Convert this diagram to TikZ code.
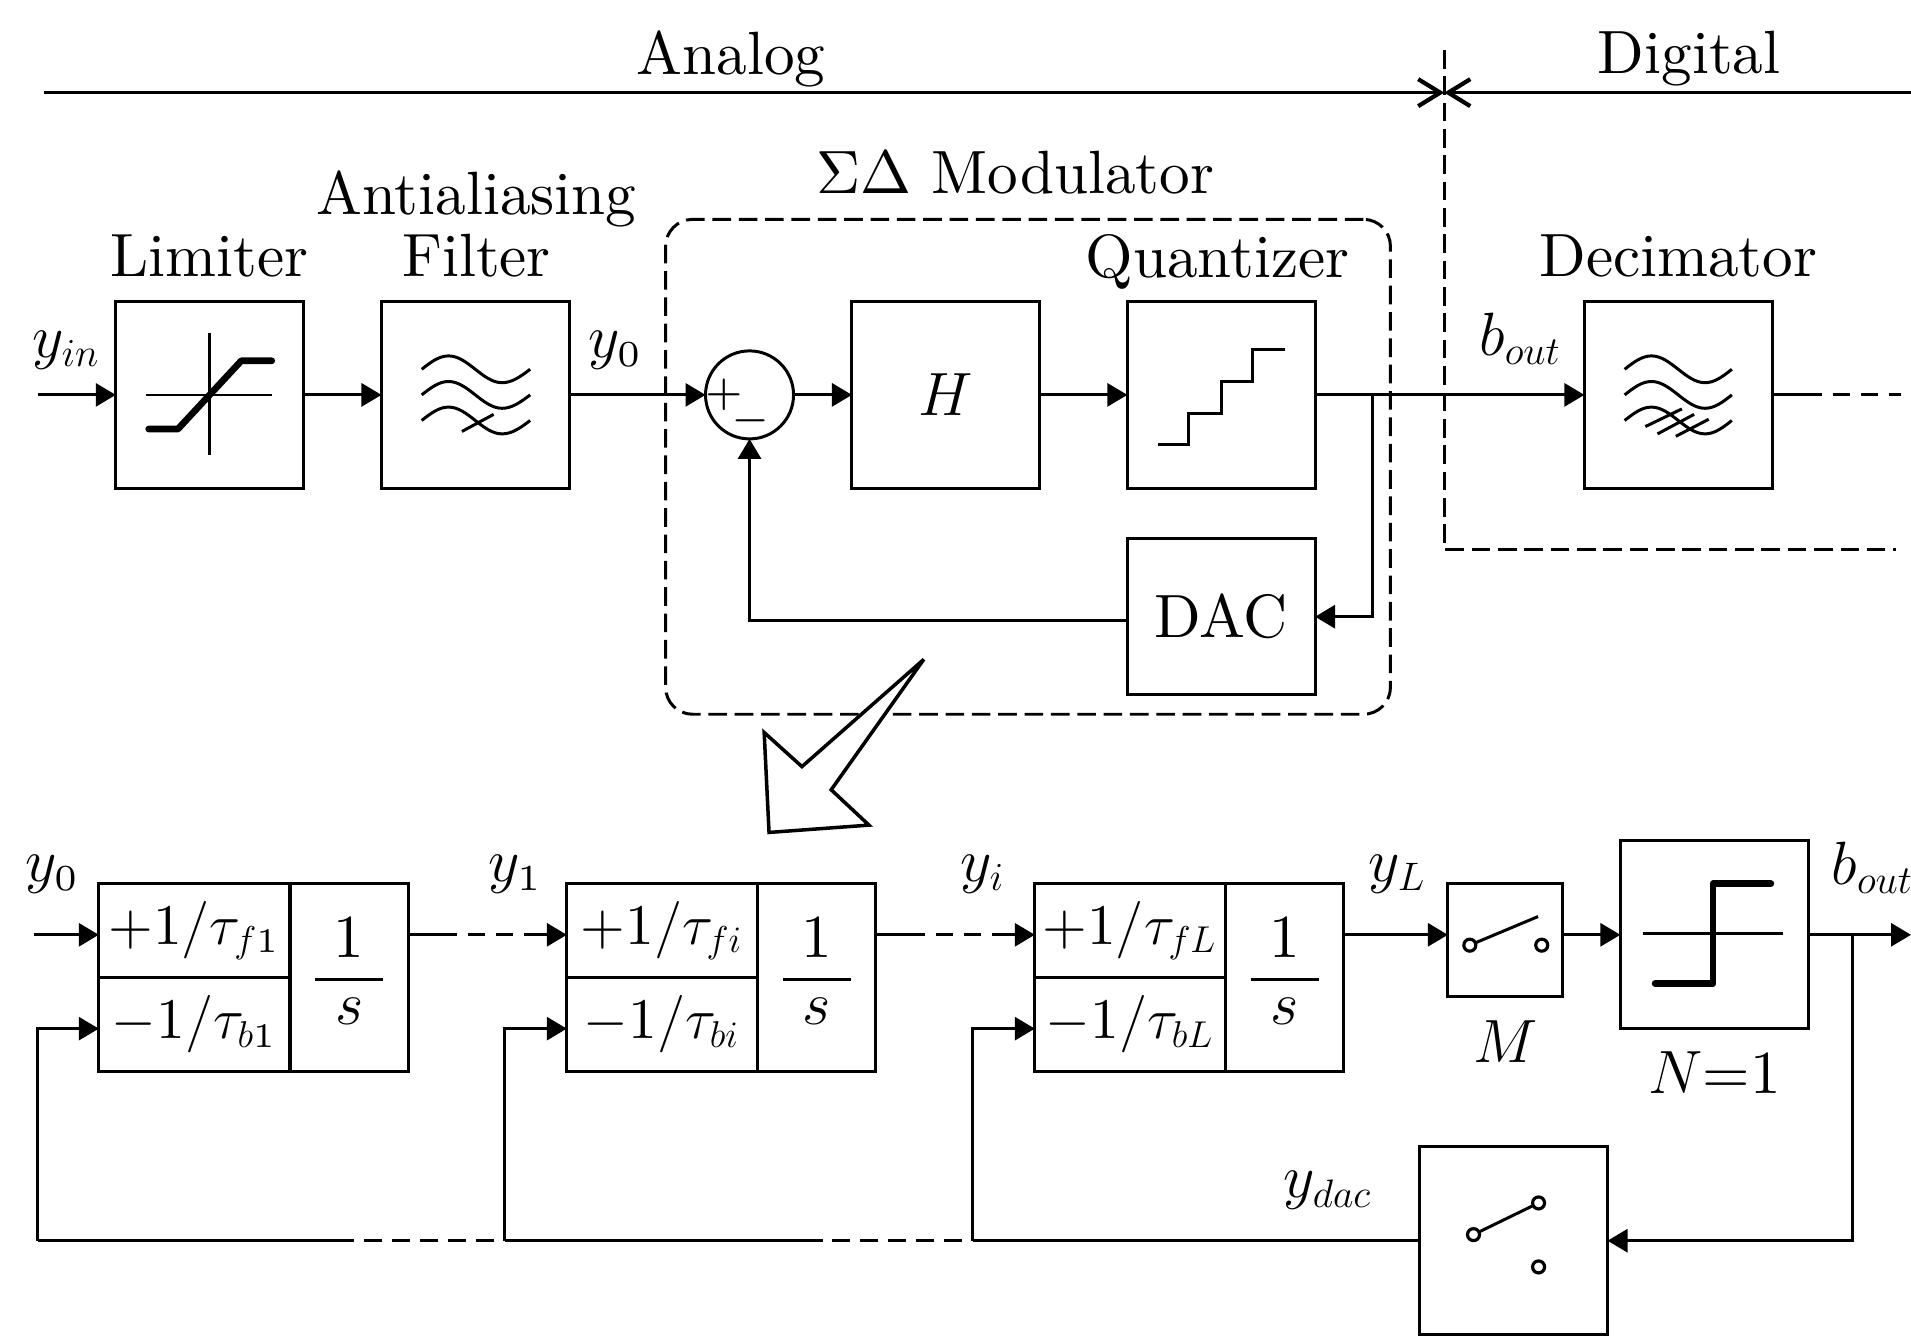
\documentclass[tikz,border=0pt]{standalone}
\usepackage{amsmath}
\usetikzlibrary{arrows.meta,positioning,calc}
\DeclareFontShape{OML}{cmm}{m}{it}{<-> cmmi12}{}
\DeclareMathSizes{10}{10}{6.5}{5}
\newcommand{\gainlabel}[1]{\scalebox{0.94}{$#1$}}
\newcommand{\intlabel}{$\frac{\textstyle\mkern5.5mu 1\mkern5.5mu\rule[-3pt]{0pt}{3pt}}{\textstyle s\rule[-2pt]{0pt}{8.8pt}}$}
\tikzset{
  every node/.style={scale=1.74,outer sep=0pt},
  signal/.style={-{Triangle[length=0.2cm,width=0.23cm]}},
  bound/.style={-{Straight Barb[length=0.22cm,width=0.27cm,line width=1.2pt]}},
  dashline/.style={dash pattern=on 5.3pt off 2.2pt},
  breakline/.style={dash pattern=on 5pt off 3pt,dash phase=5pt},
  blockbox/.style={draw,minimum width=1.079cm,minimum height=1.079cm,inner sep=0pt},
  gaincell/.style={draw,minimum width=1.099cm,minimum height=0.539cm,inner sep=0pt},
  intcell/.style={draw,minimum width=0.679cm,minimum height=1.079cm,inner sep=0pt},
  contact/.style={draw,circle,minimum size=0.069cm,inner sep=0pt,line width=0.9pt},
  heavy/.style={line width=1.9pt,line cap=round,line join=round},
  fine/.style={line width=0.7pt},
}
\begin{document}
\begin{tikzpicture}[x=0.012187cm,y=-0.012187cm,line width=0.85pt]
  \useasboundingbox (0,0) rectangle (1568,1101);
  % domains
  \coordinate (anaL) at (36,76);
  \coordinate (digR) at (1568,76);
  \coordinate (split) at (1185,76);
  \coordinate (splittop) at (1185,41);
  \coordinate (splitcorner) at (1185,451);
  \coordinate (splitend) at (1556,451);
  \draw[bound] (anaL) -- (split);
  \draw[bound] (digR) -- (split);
  \draw[dashline] (splittop) -- (splitcorner) -- (splitend);
  \node (analog) at (600,48) {Analog};
  \node (digital) at (1386,48) {Digital};
  % top chain
  \node[blockbox] (limiter) at (172,324) {};
  \node[blockbox] (filter) at (390,324) {};
  \node[draw,circle,minimum size=0.506cm,inner sep=0pt] (sum) at (615,324) {};
  \node[inner sep=0pt,font=\scriptsize] (sumplus) at (594,324) {$+$};
  \node[inner sep=0pt,font=\scriptsize] (summinus) at (616,345) {$-$};
  \node[blockbox] (hblock) at (776,324) {$H$};
  \node[blockbox] (quant) at (1002,324) {};
  \node[blockbox,minimum height=0.897cm] (dac) at (1002,506) {DAC};
  \node[blockbox] (decim) at (1377,324) {};
  \node[draw,dashline,rounded corners=0.27cm,minimum width=4.167cm,minimum height=2.845cm] (modbox) at (843.5,383) {};
  \node (limlabel) at (172,210) {Limiter};
  \node (antilabel) at (391,163) {Antialiasing};
  \node (filtlabel) at (391,210) {Filter};
  \node (modlabel) at (833,142) {$\Sigma\Delta$ Modulator};
  \node (quantlabel) at (999,215) {Quantizer};
  \node (decimlabel) at (1377,210) {Decimator};
  \node (yin) at (55,287) {$y_{in}$};
  \node (yzero) at (505,287) {$y_0$};
  \node (bout) at (1248,278) {$b_{out}$};
  % limiter, filters, staircase
  \draw[fine] (120,324) -- (223,324) (172,273) -- (172,373);
  \draw[heavy] (122,352) -- (146,352) -- (198,296) -- (223,296);
  \draw (346,303) sin (368,292) cos (390,303) sin (412,314) cos (435,303);
  \draw (346,324) sin (368,313) cos (390,324) sin (412,335) cos (435,324);
  \draw (346,345) sin (368,334) cos (390,345) sin (412,356) cos (435,345);
  \draw (379,354) -- (405,340);
  \draw (1333,303) sin (1355,292) cos (1377,303) sin (1399,314) cos (1421,303);
  \draw (1333,324) sin (1355,313) cos (1377,324) sin (1399,335) cos (1421,324);
  \draw (1333,345) sin (1355,334) cos (1377,345) sin (1399,356) cos (1421,345);
  \draw (1350,350) -- (1380,335.5) (1360,356) -- (1390,340) (1375,358) -- (1402,344);
  \draw (950,365) -- (975,365) -- (975,339) -- (1002,339) -- (1002,313) -- (1028,313) -- (1028,287) -- (1054,287);
  % top connectors
  \coordinate (yinstart) at (31,324);
  \coordinate (quanttap) at (1126,324);
  \coordinate (dacout) at (925,509);
  \coordinate (decimmid) at (1495,324);
  \coordinate (decimend) at (1560,324);
  \draw[signal] (yinstart) -- (limiter.west);
  \draw[signal] (limiter.east) -- (filter.west);
  \draw[signal] (filter.east) -- (sum.west);
  \draw[signal] (sum.east) -- (hblock.west);
  \draw[signal] (hblock.east) -- (quant.west);
  \draw[signal] (quant.east) -- (decim.west);
  \draw[signal] (quanttap) |- (dac.east);
  \draw[signal] (dacout) -| (sum.south);
  \draw (decim.east) -- (decimmid);
  \draw[breakline] (decimmid) -- (decimend);
  % zoom arrow
  \draw[line width=1pt,line join=miter,miter limit=3,fill=white] (758,541) -- (658,629) -- (627,601) -- (631,683) -- (713,677) -- (682,648) -- cycle;
  % bottom chain
  \node[gaincell] (fwd1) at (159.5,763.5) {\gainlabel{+1/\tau_{f1}}};
  \node[gaincell] (bwd1) at (159.5,840.5) {\gainlabel{-1/\tau_{b1}}};
  \node[intcell] (int1) at (286.5,802) {\intlabel};
  \node[gaincell] (fwd2) at (543.5,763.5) {\gainlabel{+1/\tau_{fi}}};
  \node[gaincell] (bwd2) at (543.5,840.5) {\gainlabel{-1/\tau_{bi}}};
  \node[intcell] (int2) at (670,802) {\intlabel};
  \node[gaincell] (fwd3) at (927.5,763.5) {\gainlabel{+1/\tau_{fL}}};
  \node[gaincell] (bwd3) at (927.5,840.5) {\gainlabel{-1/\tau_{bL}}};
  \node[intcell] (int3) at (1054,802) {\intlabel};
  \node[draw,minimum width=0.659cm,minimum height=0.651cm,inner sep=0pt] (swm) at (1235,771.5) {};
  \node[blockbox] (comp) at (1406.5,766.5) {};
  \node[blockbox] (swdac) at (1242,1018) {};
  \node (mlabel) at (1235,855) {$M$};
  \node (nlabel) at (1407,880) {$N{=}1$};
  \node (yzerob) at (43,717) {$y_0$};
  \node (yone) at (423,717) {$y_1$};
  \node (yi) at (807,717) {$y_i$};
  \node (yl) at (1147,717) {$y_L$};
  \node (boutb) at (1537,712) {$b_{out}$};
  \node (ydac) at (1090,977) {$y_{dac}$};
  % switches and comparator
  \node[contact] (ma) at (1206,775.5) {};
  \node[contact] (mb) at (1265,775.5) {};
  \coordinate (mtip) at (1262,752);
  \draw (ma) -- (mtip);
  \node[contact] (da) at (1209,1013) {};
  \node[contact] (db) at (1262.4,987) {};
  \node[contact] (dc) at (1262.4,1039.5) {};
  \draw (da) -- (db);
  \draw[fine] (1348,766) -- (1463,766);
  \draw[heavy] (1358,807) -- (1405.6,807) -- (1405.6,725) -- (1453,725);
  % bottom connectors
  \coordinate (fwdin) at (28,767);
  \coordinate (bk1) at (31,844);
  \coordinate (bk2) at (414,844);
  \coordinate (bk3) at (798,844);
  \coordinate (s1a) at (375,767);
  \coordinate (s1b) at (430,767);
  \coordinate (s2a) at (759,767);
  \coordinate (s2b) at (814,767);
  \coordinate (outtap) at (1520,767);
  \coordinate (outend) at (1568,767);
  \coordinate (f1) at (290,1018);
  \coordinate (f2) at (675,1018);
  \draw[signal] (fwdin) -- (fwdin -| fwd1.west);
  \draw (fwdin -| int1.east) -- (s1a);
  \draw[breakline] (s1a) -- (s1b);
  \draw[signal] (s1b) -- (s1b -| fwd2.west);
  \draw (fwdin -| int2.east) -- (s2a);
  \draw[breakline] (s2a) -- (s2b);
  \draw[signal] (s2b) -- (s2b -| fwd3.west);
  \draw[signal] (fwdin -| int3.east) -- (fwdin -| swm.west);
  \draw[signal] (fwdin -| swm.east) -- (fwdin -| comp.west);
  \draw[signal] (comp.east |- fwdin) -- (outend);
  \draw[signal] (outtap) |- (swdac.east);
  \draw (swdac.west) -- (bk3 |- swdac.west);
  \draw[breakline] (bk3 |- swdac.west) -- (f2);
  \draw (f2) -- (bk2 |- swdac.west);
  \draw[breakline] (bk2 |- swdac.west) -- (f1);
  \draw (f1) -- (bk1 |- swdac.west);
  \draw[signal] (bk1 |- swdac.west) -- (bk1) -- (bk1 -| bwd1.west);
  \draw[signal] (bk2 |- swdac.west) -- (bk2) -- (bk2 -| bwd2.west);
  \draw[signal] (bk3 |- swdac.west) -- (bk3) -- (bk3 -| bwd3.west);
\end{tikzpicture}
\end{document}
